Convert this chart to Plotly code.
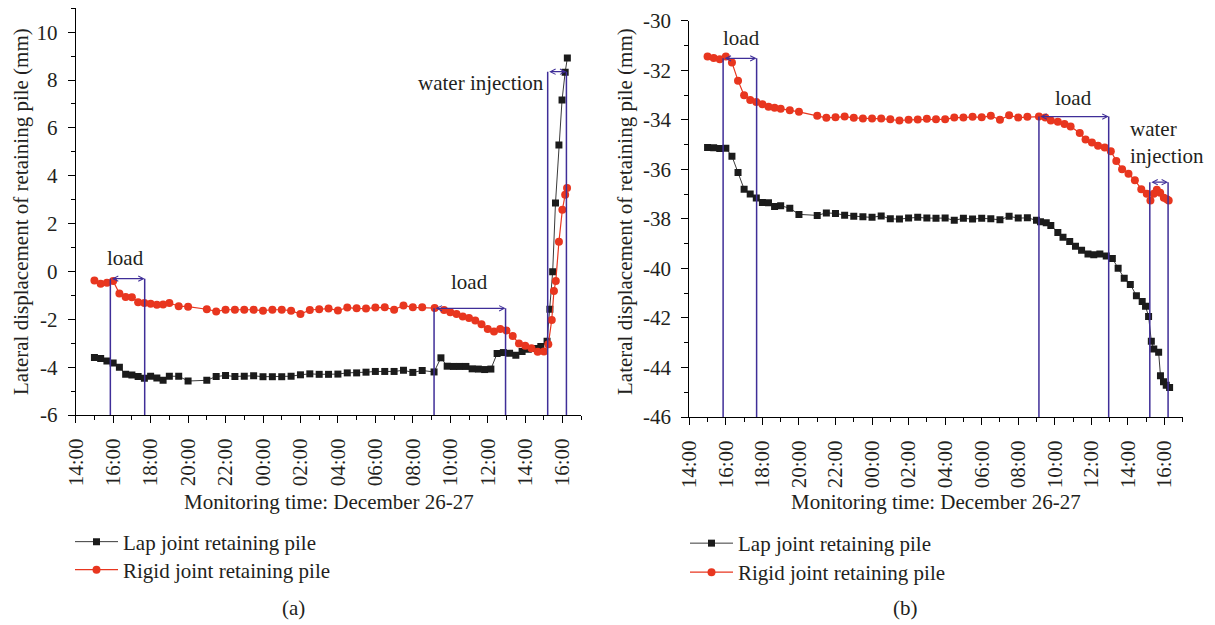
import plotly.graph_objects as go

# ---------------- data ----------------
# (a) left panel
a_lap_t = ["26 15:00","26 15:20","26 15:40","26 16:00","26 16:20","26 16:40","26 17:00","26 17:20","26 17:40",
           "26 18:00","26 18:20","26 18:40","26 19:00","26 19:30","26 20:00","26 21:00","26 21:30","26 22:00",
           "26 22:30","26 23:00","26 23:30","27 00:00","27 00:30","27 01:00","27 01:30","27 02:00","27 02:30",
           "27 03:00","27 03:30","27 04:00","27 04:30","27 05:00","27 05:30","27 06:00","27 06:30","27 07:00",
           "27 07:30","27 08:00","27 08:30","27 09:08","27 09:30","27 09:50","27 10:10","27 10:30","27 10:50",
           "27 11:10","27 11:30","27 11:50","27 12:10","27 12:30","27 12:50","27 13:10","27 13:30","27 13:50",
           "27 14:10","27 14:30","27 14:50","27 15:10","27 15:19","27 15:28","27 15:37","27 15:48","27 15:58",
           "27 16:08","27 16:15"]
a_lap_v = [-3.60,-3.64,-3.74,-3.83,-4.00,-4.30,-4.33,-4.39,-4.46,
           -4.38,-4.45,-4.55,-4.38,-4.38,-4.58,-4.55,-4.39,-4.35,
           -4.39,-4.38,-4.36,-4.40,-4.40,-4.40,-4.38,-4.32,-4.28,
           -4.30,-4.30,-4.29,-4.24,-4.24,-4.21,-4.18,-4.18,-4.18,
           -4.13,-4.22,-4.14,-4.20,-3.61,-3.96,-3.97,-3.97,-3.97,
           -4.07,-4.08,-4.10,-4.08,-3.43,-3.39,-3.42,-3.50,-3.35,
           -3.25,-3.22,-3.14,-2.92,-1.58,-0.01,2.86,5.29,7.17,
           8.33,8.92]
a_rig_t = ["26 15:00","26 15:20","26 15:40","26 16:00","26 16:20","26 16:40","26 17:00","26 17:20","26 17:40",
           "26 18:00","26 18:20","26 18:40","26 19:00","26 19:30","26 20:00","26 21:00","26 21:30","26 22:00",
           "26 22:30","26 23:00","26 23:30","27 00:00","27 00:30","27 01:00","27 01:30","27 02:00","27 02:30",
           "27 03:00","27 03:30","27 04:00","27 04:30","27 05:00","27 05:30","27 06:00","27 06:30","27 07:00",
           "27 07:30","27 08:00","27 08:30","27 09:10","27 09:40","27 10:00","27 10:20","27 10:40","27 11:00",
           "27 11:20","27 11:40","27 12:00","27 12:20","27 12:40","27 13:00","27 13:20","27 13:40","27 14:00",
           "27 14:20","27 14:40","27 15:00","27 15:14","27 15:25","27 15:32","27 15:38","27 15:48","27 15:59",
           "27 16:08","27 16:14"]
a_rig_v = [-0.38,-0.51,-0.47,-0.40,-0.92,-1.07,-1.08,-1.29,-1.32,
           -1.35,-1.39,-1.38,-1.32,-1.45,-1.47,-1.58,-1.67,-1.60,
           -1.60,-1.60,-1.60,-1.64,-1.60,-1.60,-1.64,-1.78,-1.61,
           -1.58,-1.55,-1.63,-1.51,-1.54,-1.55,-1.51,-1.50,-1.60,
           -1.42,-1.50,-1.50,-1.53,-1.61,-1.70,-1.78,-1.88,-1.95,
           -2.05,-2.21,-2.40,-2.51,-2.40,-2.47,-2.70,-3.01,-3.11,
           -3.21,-3.36,-3.35,-3.04,-2.03,-0.82,-0.40,1.24,2.58,
           3.21,3.49]

# (b) right panel
b_lap_t = ["26 15:00","26 15:20","26 15:40","26 16:00","26 16:20","26 16:40","26 17:00","26 17:20","26 17:40",
           "26 18:00","26 18:20","26 18:40","26 19:00","26 19:30","26 20:00","26 21:00","26 21:30","26 22:00",
           "26 22:30","26 23:00","26 23:30","27 00:00","27 00:30","27 01:00","27 01:30","27 02:00","27 02:30",
           "27 03:00","27 03:30","27 04:00","27 04:30","27 05:00","27 05:30","27 06:00","27 06:30","27 07:00",
           "27 07:30","27 08:00","27 08:30","27 09:00","27 09:13","27 09:32","27 09:47","27 10:10","27 10:27",
           "27 10:49","27 11:08","27 11:28","27 11:49","27 12:08","27 12:28","27 12:49","27 13:09","27 13:28",
           "27 13:48","27 14:08","27 14:28","27 14:47","27 14:58","27 15:08","27 15:17","27 15:25","27 15:41",
           "27 15:47","27 15:57","27 16:06","27 16:17"]
b_lap_v = [-35.12,-35.13,-35.16,-35.15,-35.47,-36.13,-36.80,-37.00,-37.16,
           -37.34,-37.35,-37.50,-37.47,-37.57,-37.82,-37.86,-37.76,-37.78,
           -37.85,-37.90,-37.92,-37.94,-37.88,-38.00,-38.01,-37.97,-37.94,
           -37.97,-37.98,-37.97,-38.06,-37.98,-38.01,-37.98,-38.00,-38.04,
           -37.90,-37.97,-37.96,-38.06,-38.12,-38.16,-38.27,-38.55,-38.74,
           -38.91,-39.11,-39.27,-39.42,-39.45,-39.42,-39.50,-39.60,-39.99,
           -40.40,-40.65,-41.10,-41.34,-41.53,-41.94,-42.94,-43.25,-43.39,
           -44.33,-44.58,-44.72,-44.81]
b_rig_t = ["26 15:00","26 15:20","26 15:40","26 16:00","26 16:20","26 16:40","26 17:00","26 17:20","26 17:40",
           "26 18:00","26 18:20","26 18:40","26 19:00","26 19:30","26 20:00","26 21:00","26 21:30","26 22:00",
           "26 22:30","26 23:00","26 23:30","27 00:00","27 00:30","27 01:00","27 01:30","27 02:00","27 02:30",
           "27 03:00","27 03:30","27 04:00","27 04:30","27 05:00","27 05:30","27 06:00","27 06:30","27 07:00",
           "27 07:30","27 08:00","27 08:30","27 09:08","27 09:29","27 09:47","27 10:10","27 10:32","27 10:52",
           "27 11:22","27 11:41","27 12:02","27 12:22","27 12:44","27 13:04","27 13:22","27 13:41","27 14:02",
           "27 14:23","27 14:44","27 15:02","27 15:14","27 15:25","27 15:35","27 15:46","27 15:58","27 16:08",
           "27 16:14"]
b_rig_v = [-31.45,-31.51,-31.56,-31.45,-31.69,-32.42,-33.01,-33.20,-33.28,
           -33.37,-33.47,-33.51,-33.55,-33.62,-33.68,-33.84,-33.92,-33.90,
           -33.87,-33.92,-33.95,-33.95,-33.95,-33.98,-34.03,-34.00,-33.99,
           -33.96,-33.98,-33.98,-33.91,-33.91,-33.88,-33.90,-33.84,-34.00,
           -33.82,-33.91,-33.88,-33.87,-33.91,-34.03,-34.08,-34.17,-34.27,
           -34.53,-34.80,-34.92,-35.05,-35.12,-35.27,-35.66,-36.00,-36.18,
           -36.44,-36.80,-36.99,-37.26,-36.99,-36.83,-36.95,-37.15,-37.21,
           -37.26]

# stage markers
stage_names = ["load", "load", "water injection"]
stage_start = ["26 15:51", "27 09:08", "27 15:12"]
stage_end = ["26 17:41", "27 12:57", "27 16:12"]
a_stage_level = [-0.30, -1.54, 8.35]
b_stage_level = [-31.52, -33.87, -36.52]

series_names = ["Lap joint retaining pile", "Rigid joint retaining pile"]
x_title = "Monitoring time: December 26-27"
y_title = "Lateral displacement of retaining pile (mm)"
a_yrange = [-6, 11]
b_yrange = [-46, -30]
a_yticks = [-6, -4, -2, 0, 2, 4, 6, 8, 10]
a_yticktext = ["-6", "-4", "-2", "0", "2", "4", "6", "8", "10"]
b_yticks = [-46, -44, -42, -40, -38, -36, -34, -32, -30]
b_yticktext = ["-46", "-44", "-42", "-40", "-38", "-36", "-34", "-32", "-30"]

# ---------------- helpers ----------------
def ts(s):
    d, hm = s.split()
    return f"2019-12-{d} {hm}"

FONT = "Liberation Serif"
FS = 21
BLACK = "#1b1b1b"
RED = "#e8361f"
BLUE = "#3f2e98"
W, H = 1215, 625

def px(x):
    return x / W

def py(y):
    return 1 - y / H

fig = go.Figure()

for (lt, lv, rt, rv, xa, ya, lg1, lg2) in [
    (a_lap_t, a_lap_v, a_rig_t, a_rig_v, "x", "y", "legend", "legend2"),
    (b_lap_t, b_lap_v, b_rig_t, b_rig_v, "x2", "y2", "legend3", "legend4"),
]:
    fig.add_trace(go.Scatter(
        x=[ts(t) for t in lt], y=lv, mode="lines+markers", name=series_names[0],
        line=dict(color="#3a3a3a", width=1),
        marker=dict(symbol="square", size=7, color=BLACK),
        xaxis=xa, yaxis=ya, legend=lg1))
    fig.add_trace(go.Scatter(
        x=[ts(t) for t in rt], y=rv, mode="lines+markers", name=series_names[1],
        line=dict(color=RED, width=1.2),
        marker=dict(symbol="circle", size=8, color=RED),
        xaxis=xa, yaxis=ya, legend=lg2))

shapes = []
annotations = []
for xr, yr, levels, ybot in [("x", "y", a_stage_level, a_yrange[0]),
                              ("x2", "y2", b_stage_level, b_yrange[0])]:
    for s, e, lev in zip(stage_start, stage_end, levels):
        for t in (s, e):
            shapes.append(dict(type="line", xref=xr, yref=yr, x0=ts(t), x1=ts(t),
                               y0=ybot, y1=lev, line=dict(color=BLUE, width=1.5)))
        annotations.append(dict(xref=xr, yref=yr, axref=xr, ayref=yr,
                                x=ts(e), y=lev, ax=ts(s), ay=lev, text="",
                                showarrow=True, arrowside="end+start",
                                arrowhead=5, startarrowhead=5, arrowsize=0.8,
                                startarrowsize=0.8, arrowwidth=1.3, arrowcolor=BLUE))

tf = dict(family=FONT, size=FS, color="#231f20")
# stage labels
annotations += [
    dict(xref="x", yref="y", x=ts("26 16:38"), y=0.57, text=stage_names[0], showarrow=False, font=tf),
    dict(xref="x", yref="y", x=ts("27 11:00"), y=-0.44, text=stage_names[1], showarrow=False, font=tf),
    dict(xref="x", yref="y", x=ts("27 15:07"), y=7.89, text=stage_names[2], showarrow=False,
         xanchor="right", font=tf),
    dict(xref="x2", yref="y2", x=ts("26 16:50"), y=-30.70, text=stage_names[0], showarrow=False, font=tf),
    dict(xref="x2", yref="y2", x=ts("27 11:02"), y=-33.12, text=stage_names[1], showarrow=False, font=tf),
    dict(xref="x2", yref="y2", x=ts("27 14:02"), y=-34.93, text=stage_names[2].replace(" ", "<br>"),
         showarrow=False, xanchor="left", align="left", font=tf),
]
# axis titles and captions (paper coords, explicit anchors)
pa = dict(xref="paper", yref="paper", showarrow=False, font=tf, xanchor="center", yanchor="middle")
annotations += [
    dict(pa, x=px(328.5), y=py(502), text=x_title),
    dict(pa, x=px(936), y=py(502), text=x_title),
    dict(pa, x=px(21), y=py(212), text=y_title, textangle=-90),
    dict(pa, x=px(625), y=py(212), text=y_title, textangle=-90),
    dict(pa, x=px(293), y=py(608), text="(a)"),
    dict(pa, x=px(905), y=py(608), text="(b)"),
]

def xaxis(dom, anchor):
    return dict(domain=dom, anchor=anchor, type="date", automargin=False,
                range=[ts("26 14:00"), ts("27 17:00")],
                tick0=ts("26 14:00"), dtick=7200000, tickformat="%H:%M", tickangle=-90,
                showline=True, linecolor="black", linewidth=1.2,
                ticks="outside", ticklen=7, tickwidth=1.2, tickcolor="black",
                minor=dict(ticks="outside", ticklen=4, tickwidth=1.2, tickcolor="black", dtick=3600000),
                showgrid=False, zeroline=False, tickfont=tf, ticklabelstandoff=7)

def yaxis(dom, anchor, rng, tv, tt):
    return dict(domain=dom, anchor=anchor, range=rng, automargin=False,
                tickmode="array", tickvals=tv, ticktext=tt,
                showline=True, linecolor="black", linewidth=1.2,
                ticks="outside", ticklen=7, tickwidth=1.2, tickcolor="black",
                minor=dict(ticks="outside", ticklen=4, tickwidth=1.2, tickcolor="black",
                           tickmode="linear", tick0=rng[0], dtick=1),
                showgrid=False, zeroline=False, tickfont=tf, ticklabelstandoff=6)

leg = dict(xanchor="left", yanchor="top", font=tf, bgcolor="rgba(0,0,0,0)", itemwidth=43)

fig.update_layout(
    width=W, height=H, autosize=False,
    margin=dict(l=0, r=0, t=0, b=0, pad=0, autoexpand=False),
    paper_bgcolor="white", plot_bgcolor="white",
    font=tf,
    xaxis=xaxis([px(75.7), px(581.4)], "y"),
    yaxis=yaxis([py(415), py(8.3)], "x", a_yrange, a_yticks, a_yticktext),
    xaxis2=xaxis([px(689.3), px(1182.7)], "y2"),
    yaxis2=yaxis([py(417), py(20.7)], "x2", b_yrange, b_yticks, b_yticktext),
    shapes=shapes, annotations=annotations,
    legend=dict(leg, x=px(70), y=py(521.5)),
    legend2=dict(leg, x=px(70), y=py(549.5)),
    legend3=dict(leg, x=px(685), y=py(523)),
    legend4=dict(leg, x=px(685), y=py(552)),
    showlegend=True,
)

fig.write_html("out.html")
